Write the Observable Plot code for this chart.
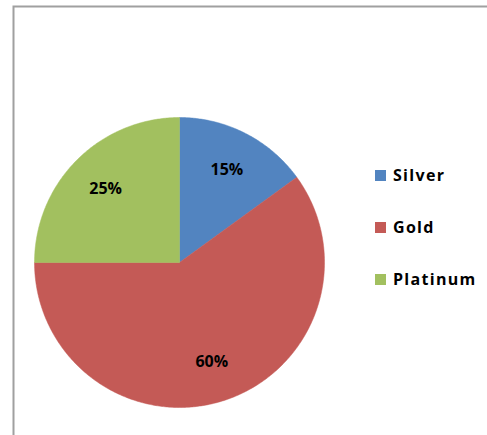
<!DOCTYPE html>
<html>
<head>
<meta charset="utf-8">
<script src="https://cdn.jsdelivr.net/npm/d3@7"></script>
<script src="https://cdn.jsdelivr.net/npm/@observablehq/plot@0.6"></script>
<style>
  html, body { margin: 0; padding: 0; background: #fff; }
  #wrap { position: relative; width: 487px; height: 435px; overflow: hidden; }
  #legend { position: absolute; left: 375px; top: 165px; font-family: "Open Sans", sans-serif; font-weight: 700; font-size: 16px; color: #000; letter-spacing: 1.3px; }
  .item { display: flex; align-items: center; height: 20px; margin-bottom: 32px; }
  .sw { width: 11px; height: 11px; margin-right: 7px; }
</style>
</head>
<body>
<div id="wrap"></div>
<script>
const categories = ["Silver", "Gold", "Platinum"];
const values = [15, 60, 25];
const colors = ["#5284c0", "#c45a56", "#a2c05f"];

const total = d3.sum(values);
const pie = d3.pie().sort(null).value(d => d.value);
const arcs = pie(categories.map((name, i) => ({name, value: values[i]})));

// polygon points for each slice (angle 0 at 12 o'clock, clockwise)
const pts = [];
for (const a of arcs) {
  const name = a.data.name;
  pts.push({name, x: 0, y: 0});
  const steps = Math.max(2, Math.ceil((a.endAngle - a.startAngle) / 0.01));
  for (let k = 0; k <= steps; k++) {
    const t = a.startAngle + (a.endAngle - a.startAngle) * k / steps;
    pts.push({name, x: Math.sin(t), y: Math.cos(t)});
  }
  pts.push({name, x: 0, y: 0});
}
const labelR = 0.72;
const labels = arcs.map(a => {
  const m = (a.startAngle + a.endAngle) / 2;
  return {name: a.data.name, text: Math.round(a.data.value / total * 100) + "%", x: labelR * Math.sin(m), y: labelR * Math.cos(m)};
});

const chart = Plot.plot({
  width: 487,
  height: 435,
  marginLeft: 13,
  marginTop: 6,
  marginRight: -5,
  marginBottom: -5,
  x: {domain: [-1, 1], range: [34, 324], axis: null},
  y: {domain: [-1, 1], range: [407, 117], axis: null},
  color: {domain: categories, range: colors},
  style: {background: "#fff"},
  marks: [
    Plot.frame({stroke: "#a0a0a0", strokeWidth: 2}),
    Plot.line(pts, {x: "x", y: "y", z: "name", fill: "name", stroke: "name", strokeWidth: 0.5}),
    Plot.text(labels, {x: "x", y: "y", text: "text", fill: "#000", fontSize: 16, fontWeight: 700, fontFamily: "Open Sans", letterSpacing: "1px"})
  ]
});
const wrap = document.getElementById("wrap");
wrap.appendChild(chart);

const legend = document.createElement("div");
legend.id = "legend";
categories.forEach((c, i) => {
  const it = document.createElement("div");
  it.className = "item";
  const sw = document.createElement("div");
  sw.className = "sw";
  sw.style.background = colors[i];
  const tx = document.createElement("span");
  tx.textContent = c;
  it.appendChild(sw); it.appendChild(tx);
  legend.appendChild(it);
});
wrap.appendChild(legend);
</script>
</body>
</html>
